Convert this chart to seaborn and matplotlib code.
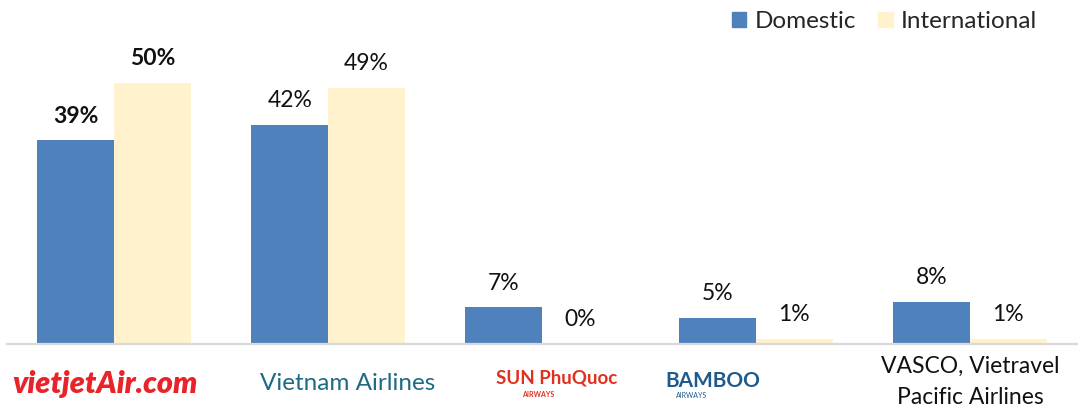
import matplotlib
matplotlib.use("Agg")
import matplotlib.pyplot as plt
import seaborn as sns
import pandas as pd

airlines = ["vietjetAir.com", "Vietnam Airlines", "SUN PhuQuoc", "BAMBOO", "VASCO, Vietravel\nPacific Airlines"]
domestic = [39, 42, 7, 5, 8]
international = [50, 49, 0, 1, 1]
series = ["Domestic", "International"]
colors = ["#4F81BD", "#FFF2CC"]

df = pd.DataFrame({
    "airline": airlines * 2,
    "share": domestic + international,
    "type": [series[0]] * len(airlines) + [series[1]] * len(airlines),
})

sns.set_theme(style="white")
plt.rcParams["font.family"] = ["Lato", "DejaVu Sans"]

fig = plt.figure(figsize=(10.78, 4.11), dpi=100)
ax = fig.add_axes([7 / 1078, 67 / 411, 1070 / 1078, 344 / 411])

sns.barplot(data=df, x="airline", y="share", hue="type", palette=colors,
            saturation=1, width=0.716, gap=0, ax=ax, legend=False,
            linewidth=0, edgecolor="none")

ax.set_ylim(0, 65.9)
ax.set_xlim(-0.5, len(airlines) - 0.5)
ax.set_xlabel("")
ax.set_ylabel("")
ax.set_yticks([])
ax.set_xticks(range(len(airlines)))
ax.set_xticklabels([])
ax.tick_params(axis="x", length=0)
for s in ["top", "left", "right"]:
    ax.spines[s].set_visible(False)
ax.spines["bottom"].set_color("#D9D9D9")
ax.spines["bottom"].set_linewidth(1.6)

for cont in ax.containers:
    labels = ax.bar_label(cont, fmt="%d%%", padding=10, fontsize=16.5, color="#111111")
    labels[0].set_fontweight("bold")

# category labels (logo-like text)
xt = ax.get_xaxis_transform()
ax.text(-0.04, -0.115, "vietjetAir.com", transform=xt, ha="center", va="center",
        color="#E8232A", fontsize=22, fontweight="heavy", fontstyle="italic")
ax.text(1.09, -0.115, "Vietnam Airlines", transform=xt, ha="center", va="center",
        color="#1F6A85", fontsize=17.5)
ax.text(2.07, -0.100, "SUN PhuQuoc", transform=xt, ha="center", va="center",
        color="#E0301E", fontsize=13.5, fontweight="bold")
ax.text(1.98, -0.147, "AIRWAYS", transform=xt, ha="center", va="center",
        color="#E0301E", fontsize=5, fontweight="bold")
ax.text(2.8, -0.108, "BAMBOO", transform=xt, ha="center", va="center",
        color="#1E5A8C", fontsize=15, fontweight="bold")
ax.text(2.7, -0.150, "AIRWAYS", transform=xt, ha="center", va="center",
        color="#1E5A8C", fontsize=5)
ax.text(4, -0.033, airlines[4], transform=xt, ha="center", va="top",
        color="#111111", fontsize=16.5, linespacing=1.65)

handles = [plt.Rectangle((0, 0), 1, 1, color=c) for c in colors]
fig.legend(handles, series, loc="upper right", bbox_to_anchor=(1052 / 1078, 1.008),
           ncol=2, frameon=False, fontsize=17.5, handlelength=0.6, handleheight=0.6,
           handletextpad=0.35, columnspacing=0.9, borderaxespad=0.2)

fig.savefig("out.png", dpi=100)
